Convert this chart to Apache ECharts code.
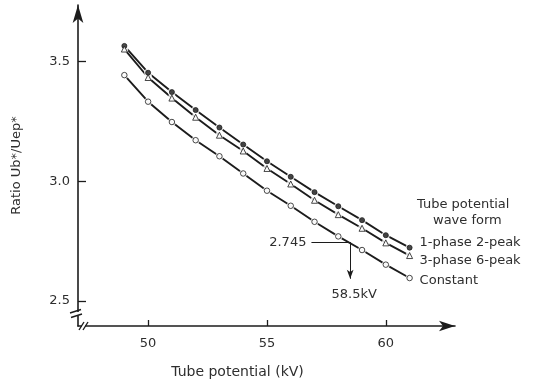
<!DOCTYPE html>
<html>
<head>
<meta charset="utf-8">
<script src="https://cdn.jsdelivr.net/npm/echarts@6/dist/echarts.min.js"></script>
<style>
  html, body { margin: 0; padding: 0; background: #fff; }
  #chart { width: 541px; height: 384px; }
</style>
</head>
<body>
<div id="chart"></div>
<script>
  // tube potential (kV)
  const kv = [49, 50, 51, 52, 53, 54, 55, 56, 57, 58, 59, 60, 61];
  // ratio Ub*/Uep* per wave form
  const phase1 = [3.565, 3.453, 3.372, 3.297, 3.224, 3.153, 3.083, 3.018, 2.954, 2.895, 2.837, 2.774, 2.722];
  const phase3 = [3.552, 3.433, 3.347, 3.267, 3.192, 3.126, 3.053, 2.988, 2.920, 2.860, 2.803, 2.742, 2.689];
  const constant = [3.443, 3.332, 3.247, 3.171, 3.104, 3.032, 2.960, 2.897, 2.830, 2.769, 2.712, 2.651, 2.595];
  const seriesNames = ['1-phase 2-peak', '3-phase 6-peak', 'Constant'];
  const xTicks = [50, 55, 60];
  const yTicks = [2.5, 3.0, 3.5];
  // marked point on the constant curve
  const markKv = 58.5;
  const markRatio = 2.745;

  const ink = '#1c1c1c';
  const txt = '#2e2e2e';
  const font = 'DejaVu Sans';

  const myChart = echarts.init(document.getElementById('chart'));

  const pairs = (ys) => kv.map((x, i) => [x, ys[i]]);

  function lineSeries(name, ys, labelOffset, extra) {
    return Object.assign({
      type: 'line',
      name: name,
      data: pairs(ys),
      showSymbol: false,
      symbol: 'none',
      z: 2,
      lineStyle: { color: ink, width: 1.9 },
      endLabel: {
        show: true,
        formatter: name,
        color: txt,
        fontFamily: font,
        fontSize: 13,
        offset: labelOffset
      }
    }, extra || {});
  }

  function gapSeries(ys) {
    return {
      type: 'scatter',
      data: pairs(ys),
      symbol: 'circle',
      symbolSize: 8,
      z: 3,
      itemStyle: { color: '#fff' }
    };
  }

  function markerSeries(ys, symbol, size, fill) {
    return {
      type: 'scatter',
      data: pairs(ys),
      symbol: symbol,
      symbolSize: size,
      z: 4,
      itemStyle: { color: fill, borderColor: ink, borderWidth: 1 }
    };
  }

  myChart.setOption({
    animation: false,
    backgroundColor: '#fff',
    grid: { left: 78, right: 86, top: 5, bottom: 57 },
    xAxis: {
      type: 'value',
      min: 47.05,
      max: 62.91,
      splitLine: { show: false },
      axisLine: {
        lineStyle: { color: ink, width: 1.6 },
        symbol: ['none', 'arrow'],
        symbolSize: [8, 16]
      },
      axisTick: { inside: true, length: 6, customValues: xTicks, lineStyle: { color: ink, width: 1.3 } },
      axisLabel: { customValues: xTicks, color: txt, fontFamily: font, fontSize: 13, margin: 11 },
      name: 'Tube potential (kV)',
      nameLocation: 'middle',
      nameGap: 39,
      nameTextStyle: { color: txt, fontFamily: font, fontSize: 14, padding: [0, 0, 0, -58] }
    },
    yAxis: {
      type: 'value',
      min: 2.3946,
      max: 3.736,
      splitLine: { show: false },
      axisLine: {
        lineStyle: { color: ink, width: 1.6 },
        symbol: ['none', 'arrow'],
        symbolSize: [8, 18]
      },
      axisTick: { inside: true, length: 8, customValues: yTicks, lineStyle: { color: ink, width: 1.3 } },
      axisLabel: {
        customValues: yTicks,
        formatter: (v) => v.toFixed(1),
        color: txt, fontFamily: font, fontSize: 13, margin: 8
      },
      name: 'Ratio Ub*/Uep*',
      nameLocation: 'middle',
      nameGap: 55,
      nameTextStyle: { color: txt, fontFamily: font, fontSize: 13 }
    },
    series: [
      lineSeries(seriesNames[0], phase1, [2, -5]),
      lineSeries(seriesNames[1], phase3, [2, 5]),
      lineSeries(seriesNames[2], constant, [2, 3], {
        markLine: {
          silent: true,
          animation: false,
          symbol: ['none', 'none'],
          lineStyle: { color: ink, width: 1, type: 'solid' },
          label: { color: txt, fontFamily: font, fontSize: 13 },
          data: [
            [
              { coord: [56.87, markRatio], label: { show: true, position: 'start', formatter: markRatio.toFixed(3) } },
              { coord: [markKv, markRatio] }
            ],
            [
              { coord: [markKv, markRatio], symbol: 'none', label: { show: true, position: 'end', distance: 9, offset: [4, 0], formatter: markKv + 'kV' } },
              { coord: [markKv, 2.592], symbol: 'arrow', symbolSize: [5, 9] }
            ]
          ]
        }
      }),
      gapSeries(phase1),
      gapSeries(phase3),
      gapSeries(constant),
      markerSeries(phase1, 'circle', 5, ink),
      markerSeries(phase3, 'triangle', 6, '#fff'),
      markerSeries(constant, 'circle', 5.5, '#fff')
    ],
    graphic: [
      {
        type: 'text', left: 417, top: 198, z: 10,
        style: { text: 'Tube potential', fill: txt, font: '13px "DejaVu Sans"' }
      },
      {
        type: 'text', left: 433, top: 214, z: 10,
        style: { text: 'wave form', fill: txt, font: '13px "DejaVu Sans"' }
      },
      // axis breaks
      { type: 'rect', shape: { x: 74, y: 312, width: 8, height: 4 }, style: { fill: '#fff' }, z: 10 },
      { type: 'line', shape: { x1: 70, y1: 313, x2: 81, y2: 309.5 }, style: { stroke: ink, lineWidth: 1.4 }, z: 11 },
      { type: 'line', shape: { x1: 71, y1: 317.5, x2: 82, y2: 314 }, style: { stroke: ink, lineWidth: 1.4 }, z: 11 },
      { type: 'rect', shape: { x: 82, y: 323, width: 3, height: 8 }, style: { fill: '#fff' }, z: 10 },
      { type: 'line', shape: { x1: 79, y1: 330, x2: 84, y2: 322 }, style: { stroke: ink, lineWidth: 1.4 }, z: 11 },
      { type: 'line', shape: { x1: 83, y1: 330, x2: 88, y2: 322 }, style: { stroke: ink, lineWidth: 1.4 }, z: 11 }
    ]
  });
</script>
</body>
</html>
